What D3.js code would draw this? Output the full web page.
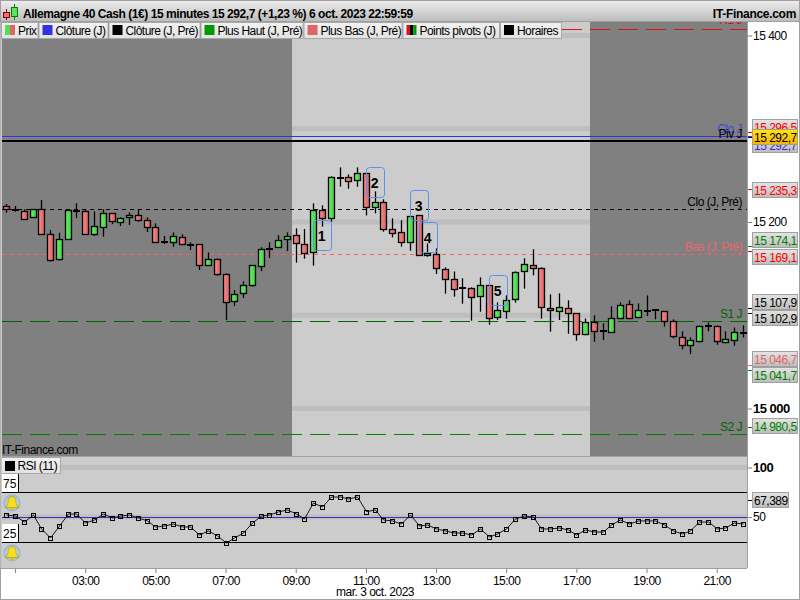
<!DOCTYPE html>
<html><head><meta charset="utf-8">
<script src="https://cdn.jsdelivr.net/npm/d3@7"></script>
<style>
html,body{margin:0;padding:0;background:#fff}
svg{display:block}
text{font-family:"Liberation Sans",Arial,sans-serif;letter-spacing:-.5px}
</style></head><body><svg id="c" width="800" height="600"></svg>
<script>
const title="Allemagne 40 Cash (1€) 15 minutes 15 292,7 (+1,23 %) 6 oct. 2023 22:59:59";
const brand="IT-Finance.com";
const dateLabel="mar. 3 oct. 2023";
const legendLabels=["Prix","Clôture (J)","Clôture (J, Pré)","Plus Haut (J, Pré)","Plus Bas (J, Pré)","Points pivots (J)","Horaires"];
const firstCandle="00:45";
const sessionOpen="09:00", sessionClose="17:15";
const opens=[15216.8,15212.8,15212.1,15205,15214.3,15186.8,15160,15182.1,15212.1,15211.4,15186.8,15194.3,15209.3,15199.6,15205,15207.1,15201.8,15194.3,15178.9,15178.2,15183.5,15175.7,15176,15153.5,15160,15143.9,15114.9,15123.5,15131.7,15152.4,15171,15172.8,15181,15185.7,15176,15167.4,15212.5,15203.9,15247.2,15247.9,15244.7,15252.2,15215.7,15221,15192.1,15188.9,15178.2,15207.1,15164.2,15165.3,15149.2,15138.5,15128.8,15128.8,15120.3,15132,15097.7,15104.2,15117,15147,15153.5,15150.3,15107.4,15104.2,15107.4,15102,15079.5,15092.4,15082.7,15081.6,15096.6,15111.7,15097.7,15104.9,15105.2,15104.2,15093.4,15076.3,15067.7,15072,15088.1,15088.1,15070.9,15073,15080.6];
const highs=[15219.3,15217.1,15213.6,15213.6,15223.6,15191.4,15188.5,15213.6,15220,15213.6,15211.4,15213.6,15209.3,15205,15210.3,15213.6,15205,15198.5,15185,15188.9,15186.8,15178.2,15176,15167.4,15161,15144.9,15127,15136.3,15153.5,15172.8,15178.2,15185.7,15188.9,15193.2,15192.5,15220,15217.9,15249,15258.6,15251.1,15258.6,15252.2,15232.9,15224.3,15203.9,15201.8,15206,15207.1,15177.1,15171.7,15151.4,15147,15139.6,15129.9,15140.6,15132,15113.8,15121.3,15147,15161,15170.7,15151.4,15122.4,15123.5,15116,15102,15096.6,15099.9,15091.3,15109.5,15113.8,15116,15112.7,15121.3,15106.3,15104.2,15095.6,15082.7,15076.3,15089.2,15092.4,15089.2,15082.7,15086.9,15089.2];
const lows=[15210,15211,15203.9,15205,15187.8,15157.4,15158.5,15181,15204.3,15186.8,15185,15184.2,15197.8,15195.7,15196.8,15200.3,15189.3,15178.2,15176.4,15173.5,15175,15170,15148.5,15153.5,15142.4,15094.9,15109.9,15118.5,15130.6,15147.4,15161.4,15172.8,15168.9,15156.4,15160.6,15153.1,15195,15200.3,15237.9,15235.7,15237.9,15207.1,15209.3,15189.6,15183.5,15173.5,15169.2,15164.2,15162.8,15144.2,15123.1,15119.9,15112.4,15094.2,15103.8,15089.9,15094.9,15096.3,15113.5,15128.5,15142.8,15096.3,15082.4,15094.9,15080.2,15072.7,15078.4,15071.6,15073.4,15081.6,15095.6,15095.6,15096.6,15099.2,15095.6,15087.7,15075.2,15063.4,15058.4,15070.9,15082.7,15068.4,15069.8,15067.3,15076.3];
const closes=[15213.6,15212.8,15203.9,15213.6,15187.8,15158.5,15181.4,15212.8,15212,15186.8,15195.3,15209.3,15200.7,15203.9,15207.1,15201.8,15194.3,15178.2,15178.9,15184.6,15176,15175.7,15153.5,15160,15143.9,15113.8,15122.4,15132,15153.5,15170.7,15171,15180.3,15184.6,15177.1,15166.4,15212.5,15203.9,15247.9,15247.2,15243.6,15252.2,15215.7,15221,15192.1,15187.8,15178.2,15206,15164.2,15166.4,15150.3,15138.5,15127.8,15128.8,15119.2,15132,15096.7,15105.2,15116,15146,15154.6,15150.3,15108.5,15105.2,15108.5,15102,15079.5,15092.4,15082.7,15082.7,15096.6,15110.6,15096.6,15105.2,15104.9,15105.2,15093.4,15077.4,15067.7,15073,15088.1,15088.1,15072,15074.1,15081.6,15080.6];
const rsi=[52,51,44.9,52,37.9,28.8,40.9,53,53,43.9,47,53,49,51,52,49,46,39.9,40.9,42.9,39.9,39.9,31.8,35.9,30.8,23.7,28.8,33.8,43.9,51,52,55.1,57.1,53,48,64.1,60.1,70.2,70.2,68.2,70.2,55.4,57.1,47,46,42.9,52,40.9,41.9,37.9,35.9,33.8,33.8,31.8,37.9,29.8,32.8,37.9,48,51,50,37.9,37.9,38.9,36.9,31.8,36.9,34.8,34.8,41.9,47,42.9,46,46,46,41.9,35.9,32.8,35.9,44.9,44.9,37.9,38.9,43.9,42.9];
const yTicks=[15400,15200,15000];
const boldPriceTicks=[15000];
const rsiTicks=[100,50];
const rsiLevels=[75,25];
const rsiBand=[100,50];
const timeTicks=["01:00","03:00","05:00","07:00","09:00","11:00","13:00","15:00","17:00","19:00","21:00"];
const gridPrices=[15400,15300,15200,15100,15000];
const levelNames=["R1 J","Clo J","Piv J","Clo (J, Pré)","Bas (J, Pré)","S1 J","S2 J"];
const levelPrices=[15406.6,15291.8,15287.2,15213.6,15165.4,15093.6,14972.2];
const levelColors=["#dd1111","#3333dd","#000000","#000000","#ee6666","#006600","#008000"];
const priceTags=["15 296,5","15 292,7","15 235,3","15 174,1","15 169,1","15 107,9","15 102,9","15 046,7","15 041,7","14 980,5"];
const tagPrices=[15296.5,15292.7,15235.3,15174.1,15169.1,15107.9,15102.9,15046.7,15041.7,14980.5];
const tagColors=["#ff0000","#3333dd","#ff0000","#008000","#ff0000","#000000","#000000","#e06666","#008000","#008000"];
const patternIds=[1,2,3,4,5];
const patternCandles=[35,41,46,47,55];
const patternTops=[15202.1,15258.7,15234,15199.7,15142.8];
const currentPrice=15292.7, currentLabel="15 292,7";
const rsiValue=67.389, rsiLabel="67,389";

const W=800,H=600,L=2,R=747,T=22,B=456,RT=457,RB=568;
const svg=d3.select("#c");
const defs=svg.append("defs");
function grad(id,a,b,h){const g=defs.append("linearGradient").attr("id",id);
 if(h){g.attr("x1",0).attr("x2",1).attr("y1",0).attr("y2",0)}else{g.attr("x1",0).attr("x2",0).attr("y1",0).attr("y2",1)}
 g.append("stop").attr("offset",0).attr("stop-color",a);g.append("stop").attr("offset",1).attr("stop-color",b);}
grad("hdr","#ececec","#bdbdbd");grad("tag","#e4e4e4","#bcbcbc");grad("yel","#ffe21e","#f6b400");
grad("gc","#6cf06c","#3fcf3f",true);grad("rc","#f59090","#dc5c5c",true);grad("btn","#f2f2f2","#e2e2e2");
const bl=defs.append("radialGradient").attr("id","bb");bl.append("stop").attr("offset",.4).attr("stop-color","#dfe9f3");bl.append("stop").attr("offset",1).attr("stop-color","#8fb0cc");
defs.append("clipPath").attr("id","pc").append("rect").attr("x",L).attr("y",T).attr("width",R-L).attr("height",B-T);

const parse=d3.utcParse("%H:%M");
const step=15*60000;
const t0=parse(firstCandle);
const times=opens.map((_,i)=>new Date(+t0+i*step));
const x=d3.scaleUtc().domain([t0,times[times.length-1]]).range([6.3,743]);
const y=d3.scaleLinear().domain([15000,15400]).range([408.5,35.5]);
const yr=d3.scaleLinear().domain([0,100]).range([566.5,467.5]);
const half=(x(times[1])-x(times[0]))/2;
const px=v=>Math.round(v)+.5;

svg.append("rect").attr("width",W).attr("height",H).attr("fill","#fff");
// price panel
const main=svg.append("g").attr("clip-path","url(#pc)");
main.append("rect").attr("x",L).attr("y",T).attr("width",R-L).attr("height",B-T).attr("fill","#cccccc");
main.selectAll("rect.g").data(gridPrices).join("rect").attr("x",L).attr("width",R-L).attr("y",d=>y(d)-2.5).attr("height",5).attr("fill","#bebebe");
const xO=Math.ceil(x(parse(sessionOpen))-half), xC=Math.ceil(x(parse(sessionClose))+half);
main.append("rect").attr("x",L).attr("y",T).attr("width",xO-L).attr("height",B-T).attr("fill","#808080");
main.append("rect").attr("x",xC).attr("y",T).attr("width",R-xC).attr("height",B-T).attr("fill","#808080");
// level lines
const dashes=["20 8",null,null,"4 4","4 4","20 8","20 8"];
const widths=[1,1,2,1,1,1,1];
levelNames.forEach((n,i)=>{
 const ly=widths[i]===2?Math.round(y(levelPrices[i])):px(y(levelPrices[i]));
 main.append("line").attr("x1",L).attr("x2",R).attr("y1",ly).attr("y2",ly)
  .attr("stroke",levelColors[i]).attr("stroke-width",widths[i]).attr("stroke-dasharray",dashes[i]);
});
[["R1 J","#dd1111",24],["Clo J","#4444dd",133],["Piv J","#000",138],["Clo (J, Pré)","#000",206],["Bas (J, Pré)","#ee6666",251],["S1 J","#006600",318],["S2 J","#006600",431]]
 .forEach(d=>main.append("text").attr("x",742).attr("y",d[2]).attr("text-anchor","end").attr("font-size",12).attr("fill",d[1]).text(d[0]));
// candles
const cg=main.append("g");
opens.forEach((o,i)=>{
 const c=closes[i],cx=px(x(times[i])),top=y(Math.max(o,c)),bot=y(Math.min(o,c));
 cg.append("line").attr("x1",cx).attr("x2",cx).attr("y1",y(highs[i])).attr("y2",y(lows[i])).attr("stroke","#000").attr("stroke-width",1.3);
 if(Math.abs(o-c)<1.2){
  cg.append("rect").attr("x",cx-3.5).attr("width",7).attr("y",Math.round(top)-1).attr("height",2).attr("fill","#000");
 }else{
  cg.append("rect").attr("x",cx-3).attr("width",6).attr("y",Math.round(top)+.5).attr("height",Math.max(1,Math.round(bot-top)))
   .attr("fill",c>o?"url(#gc)":"url(#rc)").attr("stroke","#000").attr("stroke-width",1.3);
 }
});
// patterns
patternIds.forEach((id,i)=>{
 const xx=px(x(times[patternCandles[i]])),yy=px(y(patternTops[i])),w=18,h=30;
 main.append("rect").attr("x",xx).attr("y",yy).attr("width",w).attr("height",h).attr("rx",3).attr("fill","none").attr("stroke","#5b8ff0").attr("stroke-width",1);
 main.append("text").attr("x",xx+w/2-1).attr("y",yy+h/2+5).attr("text-anchor","middle").attr("font-size",14).attr("font-weight","bold").attr("fill","#000").text(id);
});
svg.append("text").attr("x",2).attr("y",454).attr("font-size",12).attr("fill","#000").text(brand);

// RSI panel
svg.append("rect").attr("x",L).attr("y",RT).attr("width",R-L).attr("height",RB-RT).attr("fill","#cccccc");
svg.selectAll("rect.rb").data(rsiBand).join("rect").attr("x",L).attr("width",R-L).attr("y",d=>yr(d)-2.5).attr("height",5).attr("fill","#bebebe");
svg.selectAll("line.rl").data(rsiLevels).join("line").attr("x1",L).attr("x2",R).attr("y1",d=>px(yr(d))).attr("y2",d=>px(yr(d))).attr("stroke","#000");
svg.append("line").attr("x1",L).attr("x2",R).attr("y1",px(yr(50))).attr("y2",px(yr(50))).attr("stroke","#3333bb");
svg.append("path").attr("d",d3.line().x((d,i)=>px(x(times[i]))).y(d=>yr(d))(rsi)).attr("fill","none").attr("stroke","#000").attr("stroke-width",.9);
svg.selectAll("rect.rp").data(rsi).join("rect").attr("x",(d,i)=>px(x(times[i]))-2).attr("y",d=>Math.round(yr(d))-1.5).attr("width",4).attr("height",4).attr("fill","none").attr("stroke","#000");
rsiLevels.forEach(l=>{
 const yy=Math.round(yr(l));
 svg.append("rect").attr("x",L).attr("y",yy-18).attr("width",16).attr("height",18).attr("fill","#fff");
 svg.append("line").attr("x1",18.5).attr("x2",18.5).attr("y1",yy-18).attr("y2",yy).attr("stroke","#000");
 svg.append("text").attr("x",3).attr("y",yy-4.5).attr("font-size",12).style("letter-spacing","0").text(l);
 const g=svg.append("g").attr("transform",`translate(12,${yy+11})`);
 g.append("circle").attr("r",8.5).attr("fill","url(#bb)");
 g.append("path").attr("d","M-7,4.5 C-4.5,3 -4,0 -4,-2 C-4,-4.5 -1.5,-6.5 0,-6.5 C1.5,-6.5 4,-4.5 4,-2 C4,0 4.5,3 7,4.5 Z").attr("fill","#f7df20").attr("stroke","#a8920c").attr("stroke-width",.7);
 g.append("circle").attr("cy",5.8).attr("r",1.7).attr("fill","#d8bc10");
});
// RSI button
svg.append("rect").attr("x",1.5).attr("y",457.5).attr("width",59).attr("height",16).attr("fill","url(#btn)").attr("stroke","#a8a8a8");
svg.append("rect").attr("x",5).attr("y",461).attr("width",10).attr("height",10).attr("fill","#000");
svg.append("text").attr("x",17.5).attr("y",470).attr("font-size",12).text("RSI (11)");

// Axes
const fmtP=d=>d3.format(",")(d).replace(/,/g," ");
const yAxis=svg.append("g").attr("transform",`translate(${R},0)`).call(d3.axisRight(y).tickValues(yTicks).tickSize(5).tickPadding(1).tickFormat(fmtP));
yAxis.select(".domain").remove();
yAxis.selectAll("line").attr("stroke","#808080");
yAxis.selectAll("text").attr("font-size",12).attr("font-family",null).attr("fill","#000").attr("font-weight",d=>boldPriceTicks.includes(d)?"bold":null);
yAxis.selectAll("text").filter(d=>boldPriceTicks.includes(d)).attr("font-size",13);
const rAxis=svg.append("g").attr("transform",`translate(${R},0)`).call(d3.axisRight(yr).tickValues(rsiTicks).tickSize(5).tickPadding(1));
rAxis.select(".domain").remove();
rAxis.selectAll("line").attr("stroke","#808080");
rAxis.selectAll("text").attr("font-size",d=>d===100?13:12).attr("font-family",null).attr("fill","#000").attr("font-weight",d=>d===100?"bold":null);
const xAxis=svg.append("g").attr("transform",`translate(0,${RB})`).call(d3.axisBottom(x).tickValues(timeTicks.map(parse)).tickSize(5).tickPadding(3).tickFormat((d,i)=>i?d3.utcFormat("%H:%M")(d):""));
xAxis.select(".domain").remove();
xAxis.selectAll("line").attr("stroke","#808080");
xAxis.selectAll("text").attr("font-size",12).attr("font-family",null).attr("fill","#000");
svg.append("text").attr("x",375).attr("y",596).attr("text-anchor","middle").attr("font-size",12).text(dateLabel);

// Tags on the right
const nudge=[-5.5,9,.5,-6,6.5,-5.5,5,-6,5,-.5];
tagPrices.forEach((p,i)=>{
 const ty=y(p);
 svg.append("line").attr("x1",R).attr("x2",752).attr("y1",px(ty)).attr("y2",px(ty)).attr("stroke",tagColors[i]);
 const cy=Math.round(ty+nudge[i]);
 svg.append("rect").attr("x",752.5).attr("y",cy-7.5).attr("width",45).attr("height",15).attr("fill","url(#tag)").attr("stroke","#a0a0a0");
 svg.append("text").attr("x",754).attr("y",cy+4.5).attr("font-size",12).attr("fill",tagColors[i]).text(priceTags[i]);
});
const cy0=137;
svg.append("line").attr("x1",R).attr("x2",752).attr("y1",px(y(currentPrice))+1).attr("y2",px(y(currentPrice))+1).attr("stroke","#000");
svg.append("rect").attr("x",752.5).attr("y",cy0-7.5).attr("width",45).attr("height",15).attr("fill","url(#yel)").attr("stroke","#b0a060");
svg.append("text").attr("x",754).attr("y",cy0+4.5).attr("font-size",12).attr("fill","#000").text(currentLabel);
svg.append("line").attr("x1",R).attr("x2",752).attr("y1",px(yr(rsiValue))).attr("y2",px(yr(rsiValue))).attr("stroke","#000");
svg.append("rect").attr("x",752.5).attr("y",Math.round(yr(rsiValue))-7.5).attr("width",36).attr("height",15).attr("fill","url(#tag)").attr("stroke","#a0a0a0");
svg.append("text").attr("x",754).attr("y",Math.round(yr(rsiValue))+4.5).attr("font-size",12).text(rsiLabel);

// Frames
svg.append("line").attr("x1",R+.5).attr("x2",R+.5).attr("y1",T).attr("y2",RB).attr("stroke","#a0a0a0").attr("stroke-width",1);
svg.append("line").attr("x1",0).attr("x2",R).attr("y1",456.5).attr("y2",456.5).attr("stroke","#a0a0a0");
svg.append("line").attr("x1",0).attr("x2",R).attr("y1",568.5).attr("y2",568.5).attr("stroke","#a0a0a0");
svg.append("rect").attr("x",.5).attr("y",.5).attr("width",W-1).attr("height",H-1).attr("fill","none").attr("stroke","#a0a0a0");
svg.append("rect").attr("x",.5).attr("y",T).attr("width",1.5).attr("height",RB-T).attr("fill","#c8c8c8");

// Header
svg.append("rect").attr("x",1).attr("y",1).attr("width",W-2).attr("height",20).attr("fill","url(#hdr)");
svg.append("line").attr("x1",0).attr("x2",W).attr("y1",21.5).attr("y2",21.5).attr("stroke","#a0a0a0");
[[6.5,9,20,12.5,5,"#ee7070","#800000"],[14.5,4,20,7.5,9,"#60e060","#008000"]].forEach(d=>{
 svg.append("line").attr("x1",d[0]).attr("x2",d[0]).attr("y1",d[1]).attr("y2",d[2]).attr("stroke",d[6]);
 svg.append("rect").attr("x",d[0]-3).attr("y",d[3]).attr("width",6).attr("height",d[4]).attr("fill",d[5]).attr("stroke",d[6]);
});
svg.append("text").attr("x",23).attr("y",18).attr("font-size",12).attr("font-weight","bold").attr("fill","#000").style("letter-spacing","-.45px").text(title);
svg.append("text").attr("x",796).attr("y",18).attr("text-anchor","end").attr("font-size",12).attr("font-weight","bold").style("letter-spacing","-.3px").text(brand);
// Legend
const btnEdges=[1.5,39,109,201,304,403,500.5,562.5];
const swatches=[["#55dd55","#e06666"],["#3333dd"],["#000"],["#009900"],["#e06666"],["#dd1111","#000","#009900"],["#000"]];
legendLabels.forEach((n,i)=>{
 const x0=btnEdges[i],x1=btnEdges[i+1]-1;
 svg.append("rect").attr("x",x0).attr("y",22.5).attr("width",x1-x0).attr("height",16).attr("fill","url(#btn)").attr("stroke","#a8a8a8");
 const cols=swatches[i],sw=10/cols.length;
 cols.forEach((c,j)=>svg.append("rect").attr("x",x0+3.5+j*sw).attr("y",25).attr("width",sw).attr("height",10).attr("fill",c));
 svg.append("text").attr("x",x0+16.5).attr("y",35).attr("font-size",12).attr("fill","#000").style("letter-spacing","-.55px").text(n);
});
</script></body></html>
